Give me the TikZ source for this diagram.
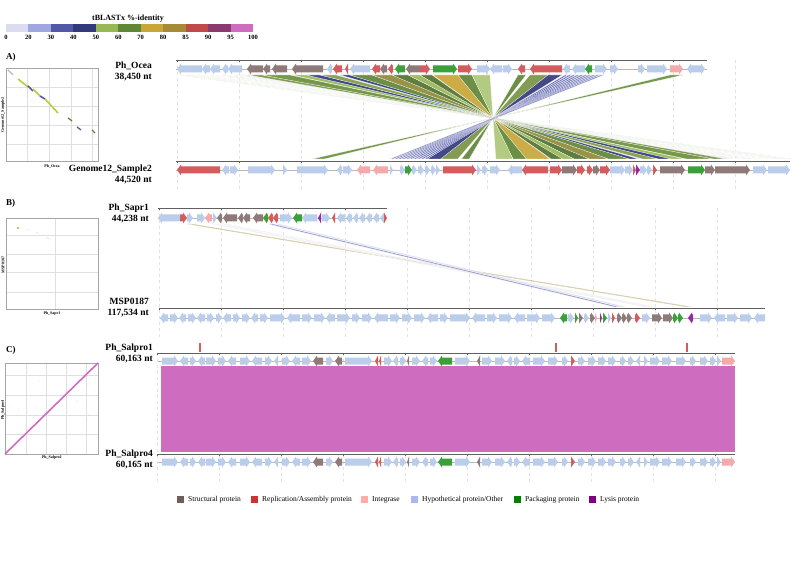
\documentclass[tikz,border=0pt]{standalone}
\usepackage{fontspec}
\setmainfont{Liberation Serif}
\usetikzlibrary{calc}
% identity scale
\definecolor{sA}{RGB}{220,220,240}
\definecolor{sB}{RGB}{160,166,224}
\definecolor{sC}{RGB}{82,88,168}
\definecolor{sD}{RGB}{50,58,122}
\definecolor{sE}{RGB}{152,184,86}
\definecolor{sF}{RGB}{96,134,56}
\definecolor{sG}{RGB}{200,166,56}
\definecolor{sH}{RGB}{166,138,56}
\definecolor{sI}{RGB}{192,74,74}
\definecolor{sJ}{RGB}{138,58,110}
\definecolor{sK}{RGB}{206,108,192}
% gene classes
\definecolor{gstruct}{RGB}{143,122,122}
\definecolor{grepl}{RGB}{212,92,92}
\definecolor{ginteg}{RGB}{244,170,170}
\definecolor{ghypo}{RGB}{186,206,236}
\definecolor{gpack}{RGB}{58,160,58}
\definecolor{glysis}{RGB}{150,40,160}
\definecolor{lstruct}{RGB}{112,92,92}
\definecolor{lrepl}{RGB}{204,52,52}
\definecolor{linteg}{RGB}{255,172,172}
\definecolor{lhypo}{RGB}{172,182,240}
\definecolor{lpack}{RGB}{0,128,0}
\definecolor{llysis}{RGB}{128,0,128}
\tikzset{
    ruler/.style={line width=0.7pt,gray!75!black},
    backbone/.style={line width=0.5pt,gray!55},
    guide/.style={gray!22,dashed,line width=0.3pt},
    plotbox/.style={draw=gray!70,line width=1pt},
    plotgrid/.style={gray!25,line width=0.4pt},
    seqname/.style={font=\bfseries\fontsize{9.5}{11}\selectfont,align=right,anchor=east,inner sep=0pt},
    panel/.style={font=\bfseries\fontsize{9}{10}\selectfont,anchor=west,inner sep=0pt},
    axislabel/.style={font=\bfseries\fontsize{4}{5}\selectfont,inner sep=0pt},
    scaletitle/.style={font=\bfseries\fontsize{8}{9}\selectfont,inner sep=0pt},
    scalelabel/.style={font=\bfseries\fontsize{6.5}{7}\selectfont,inner sep=0pt},
    legendtext/.style={font=\fontsize{7.5}{9}\selectfont,anchor=west,inner sep=0pt},
    ribbon/.style={draw=white,line width=0.2pt,fill opacity=0.92},
    tickmark/.style={line width=0.4pt,gray!75!black}
}
% gene arrow: start, head end, centre y, colour
\newcommand{\gene}[4]{%
    \pgfmathsetmacro{\gh}{(#2-#1)>0 ? min(4,#2-#1) : max(-4,#2-#1)}%
    \fill[#4] (#1,#3-3.5) -- (#2-\gh,#3-3.5) -- (#2-\gh,#3-5.5) -- (#2,#3)
        -- (#2-\gh,#3+5.5) -- (#2-\gh,#3+3.5) -- (#1,#3+3.5) -- cycle;}
% inverted match in panel A
\newcommand{\ribA}[3]{%
    \pgfmathsetmacro{\ba}{493+0.953*(493-#1)}%
    \pgfmathsetmacro{\bb}{493+0.953*(493-#2)}%
    \fill[ribbon,fill=#3] (#1,75) -- (#2,75) -- (\bb,159) -- (\ba,159) -- cycle;}

\begin{document}
\begin{tikzpicture}[x=1pt,y=-1pt]
    \useasboundingbox (0,0) rectangle (798,561);
    \fill[white] (0,0) rectangle (798,561);

    % Identity scale
    \node[scaletitle] (idtitle) at (128,19) {tBLASTx \%-identity};
    \foreach \c [count=\i from 0] in {sA,sB,sC,sD,sE,sF,sG,sH,sI,sJ,sK}
        \fill[\c] (6+22.45*\i,24) rectangle ++(22.45,8);
    \foreach \v [count=\i from 0] in {0,20,30,40,50,60,70,80,85,90,95,100}
        \node[scalelabel] (sl\i) at (6+22.45*\i,37) {\v};

    % Guides
    \foreach \k in {0,...,9} \draw[guide] (177+62*\k,60) -- (177+62*\k,192);
    \foreach \k in {0,...,9} \draw[guide] (159+62*\k,208) -- (159+62*\k,340);
    \foreach \k in {0,...,9} \draw[guide] (157+62*\k,353) -- (157+62*\k,482);

    % ---------- A) ----------
    \node[panel] (labA) at (6,57) {A)};
    % Dot plot
    \foreach \x in {27,49,71,92} \draw[plotgrid] (\x,69) -- (\x,162);
    \foreach \y in {87,106,125,144} \draw[plotgrid] (6,\y) -- (98,\y);
    \draw[plotbox] (6,69) rectangle (98,162);
    \draw[line width=1.2pt,sA!60!gray] (8,70) -- (13,75);
    \draw[line width=1.6pt,sE!70!yellow] (18,79) -- (28,87);
    \draw[line width=1.6pt,sC] (28,86) -- (33,91);
    \draw[line width=1.6pt,sE!70!yellow] (33,89) -- (40,96);
    \draw[line width=1.6pt,sC] (40,96) -- (45,99);
    \draw[line width=1.6pt,sE!70!yellow] (45,99) -- (58,113);
    \draw[line width=1.3pt,sF] (68,118) -- (72,121);
    \draw[line width=1.3pt,sC] (77,127) -- (81,130);
    \draw[line width=1.3pt,sF] (92,130) -- (95,133);
    \foreach \p in {(14,84),(20,89),(31,101),(94,136)} \fill[gray!50] \p circle (0.4);
    \node[axislabel,rotate=90] (dotAy) at (3,115) {Genome12\_Sample2};
    \node[axislabel] (dotAx) at (52,166) {Ph\_Ocea};
    \node[seqname] (nameA1) at (152,71) {Ph\_Ocea\\38,450 nt};
    \node[seqname] (nameA2) at (152,174) {Genome12\_Sample2\\44,520 nt};

    % Matches
    \ribA{179}{182}{sE!60!white}
    \ribA{188}{191}{gray!35}
    \ribA{197}{201}{sE!45!white}
    \ribA{210}{213}{gray!30}
    \ribA{222}{226}{sE!55!white}
    \ribA{234}{238}{gray!30}
    \ribA{240}{245}{sA}
    \ribA{248}{262}{sE!80!black}
    \ribA{262}{290}{sF!80!sE}
    \ribA{292}{306}{sE}
    \ribA{306}{320}{sD}
    \ribA{320}{336}{sE!85!black}
    \ribA{340}{350}{sD}
    \ribA{350}{372}{sF}
    \ribA{372}{392}{sH!70!sF}
    \ribA{392}{408}{sF!85!black}
    \ribA{408}{420}{sE}
    \ribA{420}{432}{sF!85!black}
    \ribA{433}{458}{sG}
    \ribA{458}{472}{sF}
    \ribA{472}{490}{sE!80!white}
    \ribA{518}{526}{sF}
    \ribA{530}{548}{sE!80!black}
    \ribA{548}{562}{sD}
    \foreach \s in {565,569,573,577,581,585,589,593,597,601}
        {\ribA{\s}{\s+2.6}{sC}}
    \ribA{670}{683}{sF!80!sE}

    % Top genome
    \draw[ruler] (176,60) -- (707,60);
    \foreach \k in {0,...,8} \draw[tickmark] (177+62*\k,60) -- ++(0,2);
    \draw[backbone] (176,69) -- (707,69);
    \foreach \a/\b/\c in {202/177/ghypo,210/202/ghypo,220/210/ghypo,228/222/ghypo,242/228/ghypo,
        263/247/gstruct,270/263/gstruct,287/272/gstruct,323/292/gstruct,332/327/ghypo,
        342/333/grepl,348/345/grepl,370/350/ghypo,380/372/grepl,387/380/gstruct,393/388/grepl,
        405/395/gpack,420/406/gstruct,420/430/grepl,433/457/gpack,458/472/grepl,
        477/490/ghypo,502/490/ghypo,503/512/ghypo,525/518/grepl,562/530/grepl,570/563/ghypo,
        585/572/ghypo,592/585/gpack,595/607/ghypo,610/618/ghypo,638/645/ghypo,647/667/ghypo,
        670/683/ginteg,693/687/ghypo,693/705/ghypo}
        {\gene{\a}{\b}{69}{\c}}
    % Bottom genome
    \draw[ruler] (176,161) -- (790,161);
    \foreach \k in {0,...,9} \draw[tickmark] (177+62*\k,161) -- ++(0,2);
    \draw[backbone] (176,170) -- (790,170);
    \foreach \a/\b/\c in {220/177/grepl,229/222/ghypo,230/238/ghypo,248/275/ghypo,283/287/ghypo,
        297/328/ghypo,342/337/ghypo,343/352/ghypo,370/357/ginteg,388/373/ginteg,390/393/ghypo,
        400/405/ghypo,405/412/gpack,412/417/ghypo,418/424/ghypo,425/430/ghypo,431/436/ghypo,
        436/440/ghypo,443/476/grepl,477/481/ghypo,482/488/ghypo,490/500/ghypo,522/508/ghypo,
        548/522/grepl,550/562/grepl,562/577/gstruct,577/585/grepl,587/593/grepl,593/600/gstruct,
        600/610/grepl,610/625/ghypo,625/633/ghypo,633/636/grepl,636/640/glysis,640/647/ghypo,
        647/652/ghypo,653/657/grepl,660/685/gstruct,688/705/gpack,705/715/gstruct,715/750/gstruct,
        753/767/ghypo,768/790/ghypo}
        {\gene{\a}{\b}{170}{\c}}

    % ---------- B) ----------
    \node[panel] (labB) at (6,203) {B)};
    \draw[plotgrid] (55,219) -- (55,310);
    \foreach \y in {235,254,272,292} \draw[plotgrid] (6,\y) -- (98,\y);
    \draw[plotbox] (6,219) rectangle (98,310);
    \fill[sG] (18,228) circle (1.2);
    \foreach \p in {(28,230),(37,233),(47,238),(49,239)} \fill[gray!60] \p circle (0.5);
    \node[axislabel,rotate=90] (dotBy) at (3,265) {MSP0187};
    \node[axislabel] (dotBx) at (52,314) {Ph\_Sapr1};
    \node[seqname] (nameB1) at (149,213) {Ph\_Sapr1\\44,238 nt};
    \node[seqname] (nameB2) at (149,308) {MSP0187\\117,534 nt};

    % Matches
    \fill[ribbon,fill=sH] (187,224) -- (192,224) -- (692,307) -- (687,307) -- cycle;
    \fill[ribbon,fill=gray!30] (213,224) -- (217,224) -- (650,307) -- (646,307) -- cycle;
    \fill[ribbon,fill=gray!25] (222,224) -- (226,224) -- (656,307) -- (652,307) -- cycle;
    \fill[ribbon,fill=sC!70!white] (268,224) -- (273,224) -- (620,307) -- (615,307) -- cycle;
    \fill[ribbon,fill=sB!60!white] (275,224) -- (279,224) -- (626,307) -- (622,307) -- cycle;

    % Top genome
    \draw[ruler] (158,208) -- (387,208);
    \foreach \k in {0,...,3} \draw[tickmark] (159+62*\k,208) -- ++(0,2);
    \draw[backbone] (158,218) -- (387,218);
    \foreach \a/\b/\c in {180/158/ghypo,180/187/grepl,187/193/ghypo,197/205/ghypo,212/205/ginteg,
        213/217/ghypo,222/217/gstruct,237/223/gstruct,243/238/gstruct,250/243/gstruct,
        263/253/gstruct,268/263/gpack,273/268/grepl,278/273/grepl,280/292/ghypo,302/293/gpack,
        317/302/ghypo,321/318/glysis,322/330/ghypo,335/332/grepl,345/337/ghypo,352/346/ghypo,
        358/353/ghypo,365/359/ghypo,372/366/ghypo,379/373/ghypo,384/380/ghypo,384/387/grepl}
        {\gene{\a}{\b}{218}{\c}}
    % Bottom genome
    \draw[ruler] (160,308) -- (765,308);
    \foreach \k in {0,...,9} \draw[tickmark] (159+62*\k,308) -- ++(0,2);
    \draw[backbone] (160,318) -- (765,318);
    \foreach \a/\b/\c in {168/160/ghypo,170/178/ghypo,186/179/ghypo,188/196/ghypo,205/197/ghypo,
        207/214/ghypo,216/222/ghypo,231/223/ghypo,233/240/ghypo,242/250/ghypo,258/251/ghypo,
        260/268/ghypo,270/285/ghypo,300/287/ghypo,302/312/ghypo,314/325/ghypo,335/326/ghypo,
        337/350/ghypo,352/360/ghypo,362/372/ghypo,388/374/ghypo,390/400/ghypo,402/412/ghypo,
        414/425/ghypo,438/427/ghypo,440/448/ghypo,450/470/ghypo,485/472/ghypo,487/497/ghypo,
        499/512/ghypo,525/514/ghypo,527/540/ghypo,542/555/ghypo,567/560/gpack,568/574/ghypo,
        575/578/gpack,579/583/gstruct,584/589/ghypo,590/595/gstruct,595/597/ginteg,600/602/glysis,
        603/607/gpack,608/611/ghypo,612/615/grepl,617/622/gstruct,622/627/gstruct,627/632/gstruct,
        635/640/grepl,642/650/ghypo,652/662/gstruct,663/673/gstruct,673/678/gpack,678/683/gpack,
        693/688/glysis,700/712/ghypo,725/714/ghypo,727/738/ghypo,740/752/ghypo,765/754/ghypo}
        {\gene{\a}{\b}{318}{\c}}

    % ---------- C) ----------
    \node[panel] (labC) at (6,350) {C)};
    \foreach \x in {26,46,66,86} \draw[plotgrid] (\x,363) -- (\x,454);
    \foreach \y in {375,395,415,434} \draw[plotgrid] (5,\y) -- (98,\y);
    \draw[plotbox] (5,363) rectangle (98,454);
    \draw[sK,line width=1.6pt] (5,454) -- (98,363);
    \foreach \p in {(39,381),(45,381),(10,407),(18,409),(36,408),(59,406),(77,401),(88,386),
        (34,432),(46,435),(53,449),(59,452),(86,419),(89,415)}
        \fill[gray!55] \p circle (0.4);
    \node[axislabel,rotate=90] (dotCy) at (3,410) {Ph\_Salpro4};
    \node[axislabel] (dotCx) at (52,458) {Ph\_Salpro1};
    \node[seqname] (nameC1) at (153,353) {Ph\_Salpro1\\60,163 nt};
    \node[seqname] (nameC2) at (153,459) {Ph\_Salpro4\\60,165 nt};

    % Match
    \fill[sK] (161,366) rectangle (735,452);

    \def\salgenes{162/178/ghypo,188/180/ghypo,190/196/ghypo,205/198/ghypo,206/216/ghypo,
        218/226/ghypo,236/228/ghypo,240/250/ghypo,262/252/ghypo,265/272/ghypo,278/274/ghypo,
        282/290/ghypo,300/292/ghypo,302/311/ghypo,323/313/gstruct,326/333/ghypo,342/335/gstruct,
        345/372/ghypo,378/375/grepl,381/379/grepl,384/392/ghypo,398/393/ghypo,400/406/ghypo,
        409/407/gstruct,412/420/ghypo,428/422/ghypo,430/437/ghypo,452/438/gpack,455/470/ghypo,
        480/477/gstruct,482/492/ghypo,495/505/ghypo,512/507/ghypo,514/520/ghypo,530/522/ghypo,
        533/545/ghypo,548/558/ghypo,562/568/ghypo,571/575/grepl,578/585/ghypo,588/596/ghypo,
        598/606/ghypo,608/616/ghypo,620/626/ghypo,628/634/ghypo,640/636/ghypo,644/648/ghypo,
        650/660/ghypo,662/672/ghypo,676/686/ghypo,690/696/ghypo,700/708/ghypo,710/716/ghypo,
        717/721/ghypo,722/735/ginteg}
    % Top genome
    \foreach \x in {200,556,687} \fill[grepl] (\x-1,343) rectangle (\x+1,352);
    \draw[ruler] (158,353) -- (735,353);
    \foreach \k in {0,...,9} \draw[tickmark] (157+62*\k,353) -- ++(0,2);
    \draw[backbone] (158,361) -- (735,361);
    \foreach \a/\b/\c in \salgenes {\gene{\a}{\b}{361}{\c}}
    % Bottom genome
    \draw[ruler] (158,454) -- (735,454);
    \foreach \k in {0,...,9} \draw[tickmark] (157+62*\k,454) -- ++(0,2);
    \draw[backbone] (158,462) -- (735,462);
    \foreach \a/\b/\c in \salgenes {\gene{\a}{\b}{462}{\c}}

    % Legend
    \foreach \c/\x/\t [count=\i] in {lstruct/177/Structural protein,
        lrepl/251/Replication\slash Assembly protein,linteg/361/Integrase,
        lhypo/411/Hypothetical protein\slash Other,lpack/514/Packaging protein,
        llysis/589/Lysis protein}
    {
        \fill[\c] (\x,496) rectangle ++(7,7);
        \node[legendtext] (leg\i) at (\x+11,499.5) {\t};
    }
\end{tikzpicture}
\end{document}
